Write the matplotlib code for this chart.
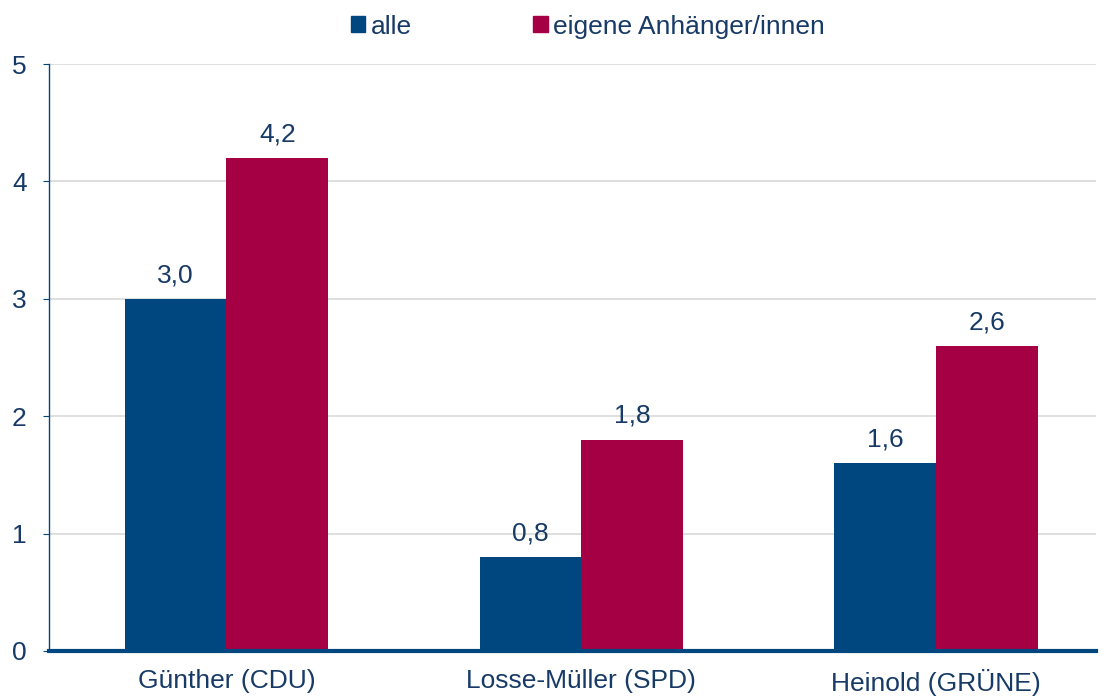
import matplotlib.pyplot as plt
from matplotlib.patches import Patch
import numpy as np

# data
categories = ["Günther (CDU)", "Losse-Müller (SPD)", "Heinold (GRÜNE)"]
alle = [3.0, 0.8, 1.6]
anhaenger = [4.2, 1.8, 2.6]
series_names = ["alle", "eigene Anhänger/innen"]

blue = "#00467f"
red = "#a50044"
text_col = "#173a66"

plt.rcParams['font.family'] = ['Liberation Sans', 'DejaVu Sans']
fs = 19

fig = plt.figure(figsize=(11.03, 6.97), dpi=100)
ax = fig.add_axes([49 / 1103, 1 - 651 / 697, (1096 - 49) / 1103, (651 - 64) / 697])

x = np.arange(len(categories))
w = 0.287
b1 = ax.bar(x - w / 2, alle, w, color=blue, zorder=3)
b2 = ax.bar(x + w / 2, anhaenger, w, color=red, zorder=3)

# value labels with German decimal comma
for bars, vals in ((b1, alle), (b2, anhaenger)):
    for r, v in zip(bars, vals):
        ax.text(r.get_x() + r.get_width() / 2, v + 0.1, f"{v:.1f}".replace(".", ","),
                ha="center", va="bottom", fontsize=fs, color=text_col)

ax.set_xlim(-0.5, 2.45)
ax.set_ylim(0, 5)
ax.set_yticks(range(6))
ax.set_xticks(x)
ax.set_xticklabels(categories)
ax.yaxis.grid(True, color="#d9d9d9", linewidth=1.2, zorder=0)
ax.set_axisbelow(True)

for s in ("top", "right"):
    ax.spines[s].set_visible(False)
ax.spines["left"].set_color(blue)
ax.spines["left"].set_linewidth(1.0)
ax.spines["bottom"].set_color(blue)
ax.spines["bottom"].set_linewidth(3)
ax.spines["bottom"].set_zorder(4)

ax.tick_params(axis="y", length=4, color=blue, labelsize=fs, labelcolor=text_col, pad=12)
ax.tick_params(axis="x", length=0, labelsize=fs, labelcolor=text_col, pad=13)

handles = [Patch(color=blue), Patch(color=red)]
fig.legend(handles, series_names, loc="upper center", bbox_to_anchor=(0.533, 1.013), ncol=2,
           frameon=False, fontsize=fs, labelcolor=text_col, handlelength=0.55,
           handleheight=0.55, handletextpad=0.2, columnspacing=4.6)

fig.savefig("out.png", dpi=100)
